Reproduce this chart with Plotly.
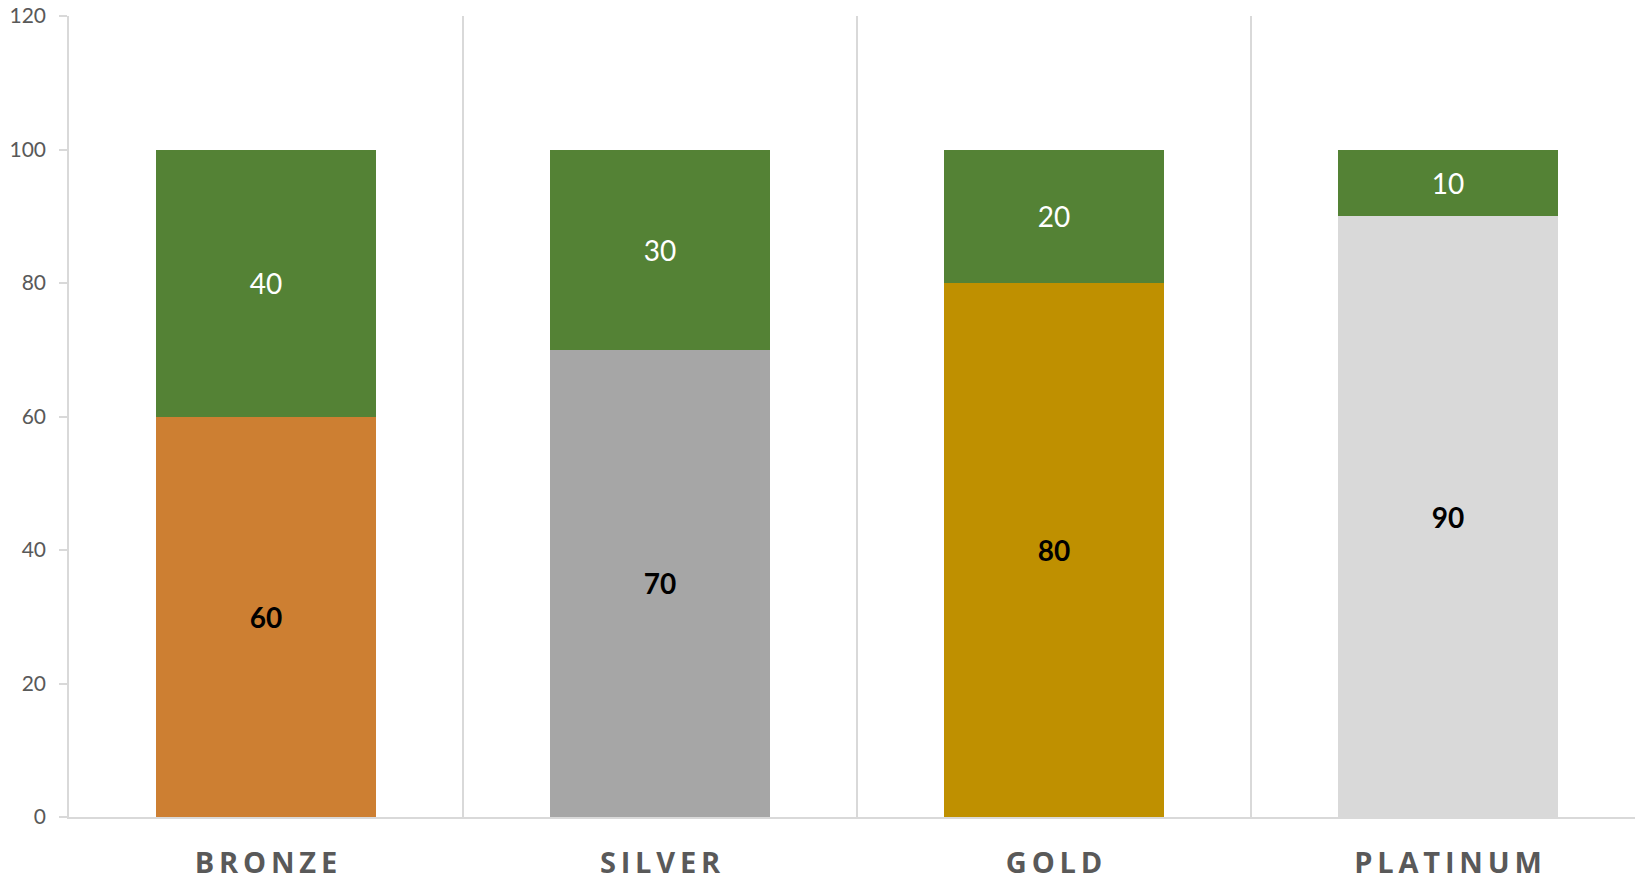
import plotly.graph_objects as go

categories = ["BRONZE", "SILVER", "GOLD", "PLATINUM"]
base_values = [60, 70, 80, 90]
top_values = [40, 30, 20, 10]
base_colors = ["#CD7F32", "#A6A6A6", "#BF9000", "#D9D9D9"]
top_color = "#548235"
y_ticks = [0, 20, 40, 60, 80, 100, 120]

thin = "\u2009"
labels = [thin.join(list(c)) for c in categories]

fig = go.Figure()
fig.add_trace(go.Bar(
    x=labels, y=base_values,
    marker=dict(color=base_colors, line=dict(width=0)),
    text=[str(v) for v in base_values],
    textposition="inside", insidetextanchor="middle",
    textfont=dict(family="Lato", size=28, color="#000000", weight="bold"),
    textangle=0, constraintext="none",
))
fig.add_trace(go.Bar(
    x=labels, y=top_values,
    marker=dict(color=top_color, line=dict(width=0)),
    text=[str(v) for v in top_values],
    textposition="inside", insidetextanchor="middle",
    textfont=dict(family="Lato", size=28, color="#FFFFFF"),
    textangle=0, constraintext="none",
))

fig.update_layout(
    width=1635, height=880,
    margin=dict(l=69, r=0, t=16, b=63, autoexpand=False),
    barmode="stack", bargap=0.44,
    showlegend=False,
    plot_bgcolor="white", paper_bgcolor="white",
    xaxis=dict(
        type="category",
        range=[-0.5, 3.4746],
        tickson="boundaries",
        automargin=False,
        showgrid=True, gridcolor="#D9D9D9", gridwidth=1.5,
        showline=True, linecolor="#D9D9D9", linewidth=1.5,
        ticks="", ticklabelstandoff=19,
        tickfont=dict(family="Open Sans", size=29, color="#595959", weight="bold"),
    ),
    yaxis=dict(
        range=[0, 120],
        tickvals=y_ticks,
        automargin=False,
        showgrid=False, zeroline=False,
        showline=True, linecolor="#D9D9D9", linewidth=1.5,
        ticks="outside", ticklen=8, tickcolor="#D9D9D9", tickwidth=1.5,
        ticklabelstandoff=9,
        tickfont=dict(family="Lato", size=21, color="#595959"),
    ),
)

fig.write_html(
    "out.html",
    config={"displayModeBar": False},
    post_script="document.body.style.margin='0';document.body.style.overflow='hidden';",
)
